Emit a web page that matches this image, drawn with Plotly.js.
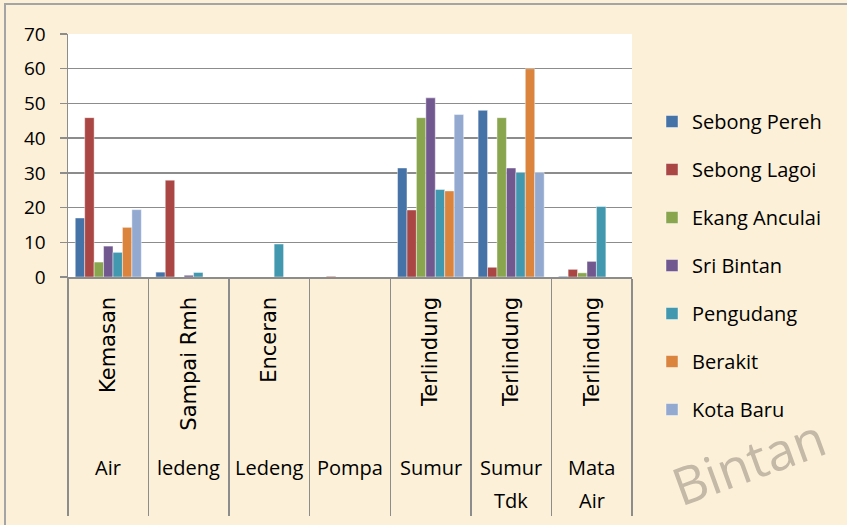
<!DOCTYPE html>
<html>
<head>
<meta charset="utf-8">
<script src="https://cdn.plot.ly/plotly-3.0.1.min.js"></script>
<style>
  html, body { margin: 0; padding: 0; background: #fcf0d8; }
  #wrap { position: relative; width: 847px; height: 525px; overflow: hidden; }
  #chart { width: 847px; height: 525px; }
  #frame { position: absolute; left: 4px; top: 3px; width: 900px; height: 600px;
           border-top: 2px solid #a4a4a4; border-left: 2px solid #a4a4a4; pointer-events: none; }
</style>
</head>
<body>
<div id="wrap">
  <div id="chart"></div>
  <div id="frame"></div>
</div>
<script>
const categories = ["Air Kemasan", "Ledeng Sampai Rmh", "Ledeng Enceran", "Pompa",
                    "Sumur Terlindung", "Sumur Tdk Terlindung", "Mata Air Terlindung"];
const rotatedLabels = ["Kemasan", "Sampai Rmh", "Enceran", "", "Terlindung", "Terlindung", "Terlindung"];
const groupLine1 = ["Air", "ledeng", "Ledeng", "Pompa", "Sumur", "Sumur", "Mata"];
const groupLine2 = ["", "", "", "", "", "Tdk", "Air"];

const seriesNames = ["Sebong Pereh", "Sebong Lagoi", "Ekang Anculai", "Sri Bintan",
                     "Pengudang", "Berakit", "Kota Baru"];
const sebongPereh  = [17.0, 1.4, 0, 0, 31.4, 48.0, 0.2];
const sebongLagoi  = [45.9, 27.9, 0, 0.2, 19.3, 2.8, 2.2];
const ekangAnculai = [4.3, 0, 0, 0, 45.9, 45.9, 1.2];
const sriBintan    = [8.9, 0.5, 0, 0, 51.6, 31.4, 4.5];
const pengudang    = [7.1, 1.3, 9.5, 0, 25.2, 30.1, 20.3];
const berakit      = [14.3, 0, 0, 0, 24.8, 60.0, 0];
const kotaBaru     = [19.4, 0, 0, 0, 46.8, 30.1, 0];
const seriesValues = [sebongPereh, sebongLagoi, ekangAnculai, sriBintan, pengudang, berakit, kotaBaru];
const colors = ["#4572A7", "#AA4643", "#89A54E", "#71588F", "#4198AF", "#DB843D", "#93A9CF"];

const yTicks = [0, 10, 20, 30, 40, 50, 60, 70];

const traces = seriesNames.map((name, i) => ({
  type: "bar",
  name: name,
  x: categories,
  y: seriesValues[i],
  legendgroup: "g" + i,
  marker: { color: colors[i], line: { color: "rgba(255,255,255,0.55)", width: 0.8 } },
  hoverinfo: "x+y+name"
}));

const plotTop = 34, plotBottom = 277, plotH = plotBottom - plotTop;
const py = Y => (plotBottom - Y) / plotH;

const annotations = [];
categories.forEach((c, i) => {
  annotations.push({ x: c, xref: "x", y: py(467), yref: "paper", text: groupLine1[i],
    showarrow: false, xanchor: "center", yanchor: "middle",
    font: { family: "Open Sans", size: 20, color: "#000" } });
  if (groupLine2[i]) {
    annotations.push({ x: c, xref: "x", y: py(500), yref: "paper", text: groupLine2[i],
      showarrow: false, xanchor: "center", yanchor: "middle",
      font: { family: "Open Sans", size: 20, color: "#000" } });
  }
});
annotations.push({ x: (748 - 68) / 564, xref: "paper", y: py(460), yref: "paper",
  text: "Bintan", showarrow: false, textangle: -20, xanchor: "center", yanchor: "middle",
  font: { family: "Open Sans", size: 52, color: "rgba(140,128,115,0.5)" } });

const layout = {
  width: 847, height: 525,
  margin: { l: 68, r: 215, t: 34, b: 248, pad: 0 },
  paper_bgcolor: "#fcf0d8",
  plot_bgcolor: "#ffffff",
  barmode: "group",
  bargap: 0.18,
  bargroupgap: 0,
  showlegend: true,
  legend: {
    xref: "container", yref: "container",
    x: 652 / 847, y: 1 - 102 / 525, xanchor: "left", yanchor: "top",
    bgcolor: "rgba(0,0,0,0)",
    font: { family: "Open Sans", size: 20, color: "#000" },
    tracegroupgap: 19,
    traceorder: "grouped",
    maxheight: 420
  },
  xaxis: {
    type: "category",
    tickmode: "array",
    tickvals: categories,
    ticktext: rotatedLabels,
    tickangle: -90,
    tickson: "boundaries",
    ticks: "outside",
    ticklen: 237,
    tickwidth: 1.5,
    tickcolor: "#8c8c8c",
    ticklabelstandoff: 10,
    tickfont: { family: "DejaVu Sans", size: 21, color: "#000" },
    showgrid: false,
    showline: true,
    linecolor: "#8c8c8c",
    linewidth: 1.5,
    zeroline: false,
    fixedrange: true
  },
  yaxis: {
    range: [0, 70],
    tickmode: "array",
    tickvals: yTicks,
    ticktext: yTicks.map(String),
    ticks: "outside",
    ticklen: 7,
    tickwidth: 1.5,
    tickcolor: "#8c8c8c",
    ticklabelstandoff: 10,
    tickfont: { family: "Open Sans", size: 19, color: "#000" },
    showgrid: true,
    gridcolor: "#8c8c8c",
    gridwidth: 1.5,
    showline: true,
    linecolor: "#8c8c8c",
    linewidth: 1.5,
    zeroline: false,
    fixedrange: true
  },
  annotations: annotations
};

Plotly.newPlot("chart", traces, layout, { displayModeBar: false, staticPlot: true });
</script>
</body>
</html>
